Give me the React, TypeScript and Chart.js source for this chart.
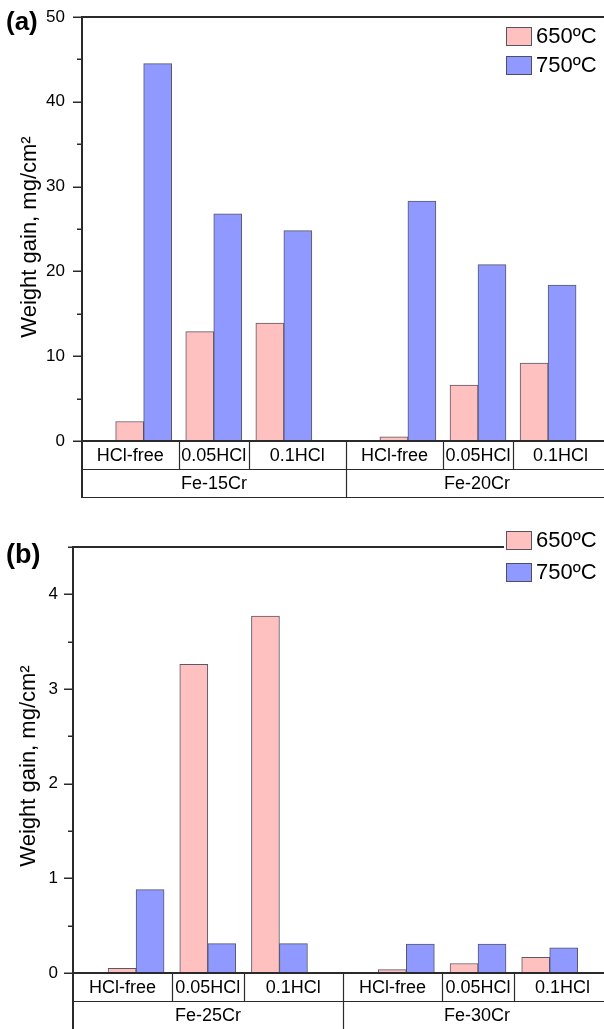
import React, { useEffect, useRef } from 'react';
import { Chart, registerables } from 'chart.js';

Chart.register(...registerables);

// ---- data ----
const conditions = ['HCl-free', '0.05HCl', '0.1HCl'];
const alloysA = ['Fe-15Cr', 'Fe-20Cr'];
const alloysB = ['Fe-25Cr', 'Fe-30Cr'];
const seriesNames = ['650ºC', '750ºC'];

// weight gain (mg/cm²), order: alloy 1 x conditions, alloy 2 x conditions
const gainA650 = [2.3, 12.9, 13.9, 0.5, 6.6, 9.2];
const gainA750 = [44.5, 26.8, 24.8, 28.3, 20.8, 18.4];
const gainB650 = [0.05, 3.26, 3.77, 0.035, 0.1, 0.165];
const gainB750 = [0.88, 0.31, 0.31, 0.305, 0.305, 0.265];

const yTitle = 'Weight gain, mg/cm²';

// ---- style ----
const FONT = '"Liberation Sans", Arial, Helvetica, sans-serif';
const PINK = 'rgb(255,192,192)';
const BLUE = 'rgb(143,153,255)';
const EDGE = 'rgba(70,70,85,0.9)';
const INK = '#2a2a2a';
const GROUP_GAP = 0.77;
const X_MIN = 0.12;
const X_MAX = 7.625;

function slotPositions(nGroups: number) {
  const out: number[] = [];
  for (let g = 0; g < nGroups; g++) {
    for (let c = 0; c < conditions.length; c++) {
      out.push(g * (conditions.length + GROUP_GAP) + c + 1);
    }
  }
  return out;
}

type PanelCfg = {
  tag: string;
  alloys: string[];
  v650: number[];
  v750: number[];
  yMax: number;
  yStep: number;
  labelStep: number;
  width: number;
  height: number;
  axisWidth: number;
  padTop: number;
  padBottom: number;
  tickPad: number;
  rowH: number;
  titleX: number;
  titleShift: number;
  legendX: number;
  legendY: number;
  legendGap: number;
  legendBackdrop: boolean;
  tagY: number;
  tagSize: number;
};

function isMajor(v: number, step: number) {
  const r = v / step;
  return Math.abs(r - Math.round(r)) < 1e-6;
}

function decorations(cfg: PanelCfg, positions: number[]) {
  return {
    id: 'decorations',
    afterDatasetsDraw(chart: any) {
      const { ctx, chartArea: a, scales } = chart;
      const x = scales.x;
      const y = scales.y;
      const left = Math.round(a.left);
      const base = Math.round(a.bottom);
      const row1 = base + cfg.rowH;
      const row2 = base + 2 * cfg.rowH;
      ctx.save();
      ctx.strokeStyle = INK;
      ctx.lineCap = 'butt';

      // y ticks (major long, minor short), pointing outward
      ctx.lineWidth = 1.5;
      y.ticks.forEach((t: any) => {
        const py = Math.round(y.getPixelForValue(t.value)) + 0.25;
        const len = isMajor(t.value, cfg.labelStep) ? 9 : 5;
        ctx.beginPath();
        ctx.moveTo(left - len, py);
        ctx.lineTo(left, py);
        ctx.stroke();
      });

      // frame: left axis (down through the label rows), top edge, baseline
      ctx.lineWidth = 2;
      ctx.beginPath();
      ctx.moveTo(left, Math.round(a.top) - 1);
      ctx.lineTo(left, Math.min(row2 + 1, cfg.height));
      ctx.stroke();
      ctx.beginPath();
      ctx.moveTo(left - 1, Math.round(a.top));
      ctx.lineTo(cfg.width, Math.round(a.top));
      ctx.stroke();
      ctx.beginPath();
      ctx.moveTo(left - 1, base);
      ctx.lineTo(cfg.width, base);
      ctx.stroke();

      // label table rows
      ctx.lineWidth = 1.2;
      [row1, row2].forEach((ry) => {
        ctx.beginPath();
        ctx.moveTo(left, ry + 0.5);
        ctx.lineTo(cfg.width, ry + 0.5);
        ctx.stroke();
      });

      const px = positions.map((p) => x.getPixelForValue(p));
      const per = conditions.length;
      // condition cell edges
      const cellEdges: number[] = [a.left];
      for (let i = 0; i < px.length - 1; i++) cellEdges.push((px[i] + px[i + 1]) / 2);
      cellEdges.push(a.right);
      for (let i = 1; i < cellEdges.length - 1; i++) {
        const ex = Math.round(cellEdges[i]) + 0.5;
        const groupEdge = i % per === 0;
        ctx.beginPath();
        ctx.moveTo(ex, base);
        ctx.lineTo(ex, groupEdge ? row2 : row1);
        ctx.stroke();
      }

      ctx.fillStyle = '#000';
      ctx.textAlign = 'center';
      ctx.textBaseline = 'middle';
      ctx.font = `18px ${FONT}`;
      for (let i = 0; i < px.length; i++) {
        const cx = (cellEdges[i] + cellEdges[i + 1]) / 2;
        ctx.fillText(conditions[i % per], cx, base + cfg.rowH / 2 + 1);
      }
      cfg.alloys.forEach((name, g) => {
        const l = cellEdges[g * per];
        const r = cellEdges[(g + 1) * per];
        ctx.fillText(name, (l + r) / 2, row1 + cfg.rowH / 2 + 1);
      });

      // y-axis title, rotated
      ctx.save();
      ctx.translate(cfg.titleX, (a.top + a.bottom) / 2 + cfg.titleShift);
      ctx.rotate(-Math.PI / 2);
      ctx.font = `22px ${FONT}`;
      ctx.fillText(yTitle, 0, 0);
      ctx.restore();

      // legend
      const colors = [PINK, BLUE];
      ctx.textAlign = 'left';
      ctx.font = `22px ${FONT}`;
      if (cfg.legendBackdrop) {
        ctx.fillStyle = '#fff';
        ctx.fillRect(cfg.legendX - 2, cfg.legendY - 3, cfg.width - cfg.legendX, cfg.legendGap + 25);
      }
      seriesNames.forEach((name, i) => {
        const ly = cfg.legendY + i * cfg.legendGap;
        ctx.fillStyle = colors[i];
        ctx.fillRect(cfg.legendX, ly, 26, 19);
        ctx.lineWidth = 1;
        ctx.strokeStyle = EDGE;
        ctx.strokeRect(cfg.legendX + 0.5, ly + 0.5, 25, 18);
        ctx.fillStyle = '#000';
        ctx.fillText(name, cfg.legendX + 30, ly + 10);
      });

      // panel tag
      ctx.font = `bold ${cfg.tagSize}px ${FONT}`;
      ctx.fillStyle = '#000';
      ctx.fillText(cfg.tag, 6, cfg.tagY);
      ctx.restore();
    },
  };
}

function buildChart(canvas: HTMLCanvasElement, cfg: PanelCfg) {
  const positions = slotPositions(cfg.alloys.length);
  const toPoints = (vals: number[]) => vals.map((v, i) => ({ x: positions[i], y: v }));
  return new Chart(canvas, {
    type: 'bar',
    data: {
      datasets: [
        {
          label: seriesNames[0],
          data: toPoints(cfg.v650) as any,
          backgroundColor: PINK,
          borderColor: EDGE,
          borderWidth: 1,
          barThickness: 28,
        },
        {
          label: seriesNames[1],
          data: toPoints(cfg.v750) as any,
          backgroundColor: BLUE,
          borderColor: EDGE,
          borderWidth: 1,
          barThickness: 28,
        },
      ],
    },
    options: {
      animation: false,
      responsive: false,
      maintainAspectRatio: false,
      devicePixelRatio: 1,
      layout: { padding: { top: cfg.padTop, bottom: cfg.padBottom, left: 0, right: 0 } },
      plugins: { legend: { display: false }, tooltip: { enabled: false } },
      scales: {
        x: { type: 'linear', display: false, min: X_MIN, max: X_MAX, offset: false },
        y: {
          min: 0,
          max: cfg.yMax,
          border: { display: false },
          grid: { display: false, drawTicks: false },
          ticks: {
            stepSize: cfg.yStep,
            autoSkip: false,
            padding: cfg.tickPad,
            color: '#000',
            font: { family: FONT, size: 17 },
            callback: (v: any) => (isMajor(Number(v), cfg.labelStep) ? String(v) : ''),
          },
          afterFit: (s: any) => {
            s.width = cfg.axisWidth;
            s.paddingTop = 0;
            s.paddingBottom = 0;
          },
        },
      },
    } as any,
    plugins: [decorations(cfg, positions)],
  });
}

const panelA: PanelCfg = {
  tag: '(a)',
  alloys: alloysA,
  v650: gainA650,
  v750: gainA750,
  yMax: 50,
  yStep: 5,
  labelStep: 10,
  width: 608,
  height: 500,
  axisWidth: 82,
  padTop: 17,
  padBottom: 59,
  tickPad: 17,
  rowH: 28,
  titleX: 30,
  titleShift: 8,
  legendX: 506,
  legendY: 27,
  legendGap: 29,
  legendBackdrop: false,
  tagY: 23,
  tagSize: 26,
};

const panelB: PanelCfg = {
  tag: '(b)',
  alloys: alloysB,
  v650: gainB650,
  v750: gainB750,
  yMax: 4.5,
  yStep: 0.5,
  labelStep: 1,
  width: 611,
  height: 529,
  axisWidth: 73,
  padTop: 47,
  padBottom: 56,
  tickPad: 15,
  rowH: 28,
  titleX: 29,
  titleShift: 6,
  legendX: 506,
  legendY: 31,
  legendGap: 32,
  legendBackdrop: true,
  tagY: 56,
  tagSize: 27,
};

function Panel({ cfg, top }: { cfg: PanelCfg; top: number }) {
  const ref = useRef<HTMLCanvasElement>(null);
  useEffect(() => {
    const chart = buildChart(ref.current as HTMLCanvasElement, cfg);
    return () => chart.destroy();
  }, [cfg]);
  return (
    <canvas
      ref={ref}
      width={cfg.width}
      height={cfg.height}
      style={{ position: 'absolute', left: 0, top, width: cfg.width, height: cfg.height, display: 'block' }}
    />
  );
}

export default function App() {
  return (
    <div
      style={{
        position: 'absolute',
        left: 0,
        top: 0,
        width: 604,
        height: 1029,
        overflow: 'hidden',
        background: '#fff',
      }}
    >
      <Panel cfg={panelA} top={0} />
      <Panel cfg={panelB} top={500} />
    </div>
  );
}
